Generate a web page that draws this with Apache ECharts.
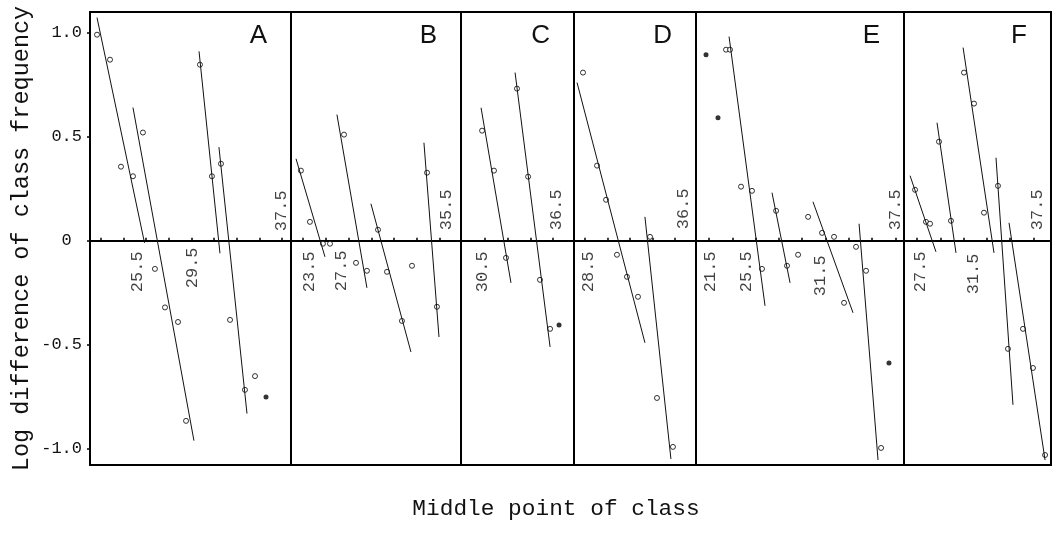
<!DOCTYPE html>
<html><head><meta charset="utf-8">
<script src="https://cdn.jsdelivr.net/npm/echarts@6/dist/echarts.min.js"></script>
<style>html,body{margin:0;padding:0;background:#fff}#c{width:1058px;height:535px}</style>
</head><body><div id="c"></div>
<script>
// ---------- data ----------
const panelNames = ['A','B','C','D','E','F'];
const yTickValues = [-1, -0.5, 0, 0.5, 1];
const yTickLabels = ['-1.0', '-0.5', '0 ', '0.5', '1.0'];

const xMin = [20.53, 22.45, 28.38, 27.52, 20.38, 26.38];
const xMax = [38.30, 37.36, 38.35, 38.37, 38.25, 39.02];
const xTicksA = [21.5,23.5,25.5,27.5,29.5,31.5,33.5,35.5,37.5];
const xTicksB = [23.5,25.5,27.5,29.5,31.5,33.5,35.5];
const xTicksC = [30.5,32.5,34.5,36.5];
const xTicksD = [28.5,30.5,32.5,34.5,36.5];
const xTicksE = [21.5,23.5,25.5,27.5,29.5,31.5,33.5,35.5,37.5];
const xTicksF = [27.5,29.5,31.5,33.5,35.5,37.5];

const openA = [[21.15,0.99],[22.30,0.87],[23.27,0.356],[24.33,0.31],[25.21,0.52],[26.27,-0.135],[27.16,-0.32],[28.31,-0.39],[29.02,-0.865],[30.25,0.846],[31.31,0.31],[32.11,0.37],[32.91,-0.38],[34.23,-0.716],[35.12,-0.65]];
const solidA = [[36.09,-0.75]];
const linesA = [[21.15,1.072,25.35,-0.01],[24.33,0.64,29.72,-0.96],[30.17,0.91,32.02,-0.06],[31.93,0.45,34.41,-0.83]];
const labelsA = [[37.5,0.144,'37.5'],[24.77,-0.149,'25.5'],[29.55,-0.13,'29.5']];

const openB = [[23.32,0.337],[24.11,0.091],[25.25,-0.014],[25.87,-0.014],[27.10,0.51],[28.15,-0.106],[29.11,-0.144],[30.08,0.053],[30.87,-0.149],[32.18,-0.385],[33.06,-0.12],[34.38,0.327],[35.25,-0.317]];
const solidB = [];
const linesB = [[22.89,0.394,25.43,-0.077],[26.48,0.606,29.11,-0.226],[29.46,0.178,32.97,-0.534],[34.11,0.471,35.43,-0.462]];
const labelsB = [[24.11,-0.149,'23.5'],[26.92,-0.144,'27.5'],[36.13,0.149,'35.5']];

const openC = [[30.24,0.529],[31.29,0.337],[32.35,-0.082],[33.32,0.731],[34.30,0.308],[35.35,-0.1875],[36.24,-0.423]];
const solidC = [[37.03,-0.404]];
const linesC = [[30.15,0.639,32.79,-0.202],[33.15,0.808,36.24,-0.51]];
const labelsC = [[30.24,-0.149,'30.5'],[36.85,0.149,'36.5']];

const openD = [[28.32,0.808],[29.57,0.361],[30.37,0.197],[31.34,-0.067],[32.23,-0.173],[33.21,-0.269],[34.28,0.019],[34.90,-0.755],[36.32,-0.99]];
const solidD = [];
const linesD = [[27.79,0.76,33.83,-0.49],[33.83,0.115,36.14,-1.048]];
const labelsD = [[28.77,-0.149,'28.5'],[37.27,0.154,'36.5']];

const openE = [[22.96,0.918],[23.30,0.918],[24.25,0.26],[25.19,0.24],[26.05,-0.135],[27.26,0.144],[28.20,-0.12],[29.15,-0.067],[30.01,0.115],[31.21,0.038],[32.24,0.019],[33.10,-0.298],[34.13,-0.029],[34.99,-0.144],[36.28,-0.995]];
const solidE = [[21.24,0.894],[22.27,0.591],[36.96,-0.587]];
const linesE = [[23.22,0.981,26.31,-0.3125],[26.91,0.231,28.46,-0.202],[30.43,0.1875,33.87,-0.346],[34.39,0.082,36.02,-1.053]];
const labelsE = [[21.59,-0.149,'21.5'],[24.76,-0.149,'25.5'],[31.04,-0.168,'31.5'],[37.48,0.149,'37.5']];

const openF = [[27.33,0.245],[28.27,0.091],[28.62,0.082],[29.39,0.476],[30.42,0.096],[31.54,0.808],[32.40,0.659],[33.26,0.135],[34.46,0.264],[35.32,-0.519],[36.61,-0.423],[37.47,-0.611],[38.51,-1.029]];
const solidF = [];
const linesF = [[26.90,0.3125,29.13,-0.053],[29.22,0.567,30.85,-0.058],[31.46,0.928,34.12,-0.058],[34.29,0.399,35.75,-0.788],[35.41,0.0865,38.51,-1.053]];
const labelsF = [[27.76,-0.149,'27.5'],[32.32,-0.159,'31.5'],[37.82,0.149,'37.5']];

const yTitle = 'Log difference of class frequency';
const xTitle = 'Middle point of class';

// ---------- layout ----------
const borders = [90, 291, 461, 574, 696, 904, 1051];
const TOP = 12, HEIGHT = 453;
const YMIN = -1.077, YMAX = 1.099;
const MONO = '"Liberation Mono", "DejaVu Sans Mono", monospace';

const xTicks = [xTicksA, xTicksB, xTicksC, xTicksD, xTicksE, xTicksF];
const opens = [openA, openB, openC, openD, openE, openF];
const solids = [solidA, solidB, solidC, solidD, solidE, solidF];
const lines = [linesA, linesB, linesC, linesD, linesE, linesF];
const labels = [labelsA, labelsB, labelsC, labelsD, labelsE, labelsF];

const grid = [], xAxis = [], yAxis = [], series = [], graphic = [];
panelNames.forEach((name, i) => {
  grid.push({left: borders[i], width: borders[i+1] - borders[i], top: TOP, height: HEIGHT,
    show: true, borderColor: '#000', borderWidth: 2, backgroundColor: 'transparent'});
  xAxis.push({type: 'value', gridIndex: i, min: xMin[i], max: xMax[i],
    axisLine: {onZero: true, lineStyle: {color: '#000', width: 2}},
    axisTick: {show: true, inside: true, length: 3, customValues: xTicks[i], lineStyle: {color: '#000', width: 1.5}},
    axisLabel: {show: false}, splitLine: {show: false}});
  const y = {type: 'value', gridIndex: i, min: YMIN, max: YMAX,
    axisLine: {show: false}, splitLine: {show: false},
    axisTick: {show: i === 0, length: 3, customValues: yTickValues, lineStyle: {color: '#000', width: 1.5}},
    axisLabel: {show: i === 0, customValues: yTickValues, margin: 8,
      fontFamily: MONO, fontSize: 17, color: '#111',
      formatter: v => yTickLabels[yTickValues.findIndex(t => Math.abs(t - v) < 1e-6)]}};
  if (i === 0) {
    y.name = yTitle; y.nameLocation = 'middle'; y.nameGap = 56; y.nameRotate = 90;
    y.nameTextStyle = {fontFamily: MONO, fontSize: 23.5, color: '#111'};
  }
  yAxis.push(y);
  lines[i].forEach(s => series.push({type: 'line', xAxisIndex: i, yAxisIndex: i,
    data: [[s[0], s[1]], [s[2], s[3]]], symbol: 'none', silent: true,
    lineStyle: {color: '#111', width: 1}}));
  series.push({type: 'scatter', xAxisIndex: i, yAxisIndex: i, data: opens[i], symbol: 'circle', symbolSize: 5,
    itemStyle: {color: '#fff', borderColor: '#000', borderWidth: 1}});
  if (solids[i].length) series.push({type: 'scatter', xAxisIndex: i, yAxisIndex: i, data: solids[i], symbol: 'circle', symbolSize: 5,
    itemStyle: {color: '#000'}});
  series.push({type: 'scatter', xAxisIndex: i, yAxisIndex: i, symbolSize: 1, itemStyle: {color: 'transparent'},
    data: labels[i].map(l => ({value: [l[0], l[1]], name: l[2]})),
    label: {show: true, position: 'inside', rotate: 90, formatter: p => p.name,
      fontFamily: MONO, fontSize: 17, color: '#111'}});
  graphic.push({type: 'text', right: 1058 - borders[i+1] + 24, top: 23,
    style: {text: name, font: '26px "Liberation Sans", Arial, sans-serif', fill: '#111'}});
});
graphic.push({type: 'text', x: 556, y: 509, style: {text: xTitle, font: '22.8px ' + MONO, fill: '#111', align: 'center', verticalAlign: 'middle'}});

const chart = echarts.init(document.getElementById('c'));
chart.setOption({animation: false, backgroundColor: '#fff', grid, xAxis, yAxis, series, graphic});
</script></body></html>
